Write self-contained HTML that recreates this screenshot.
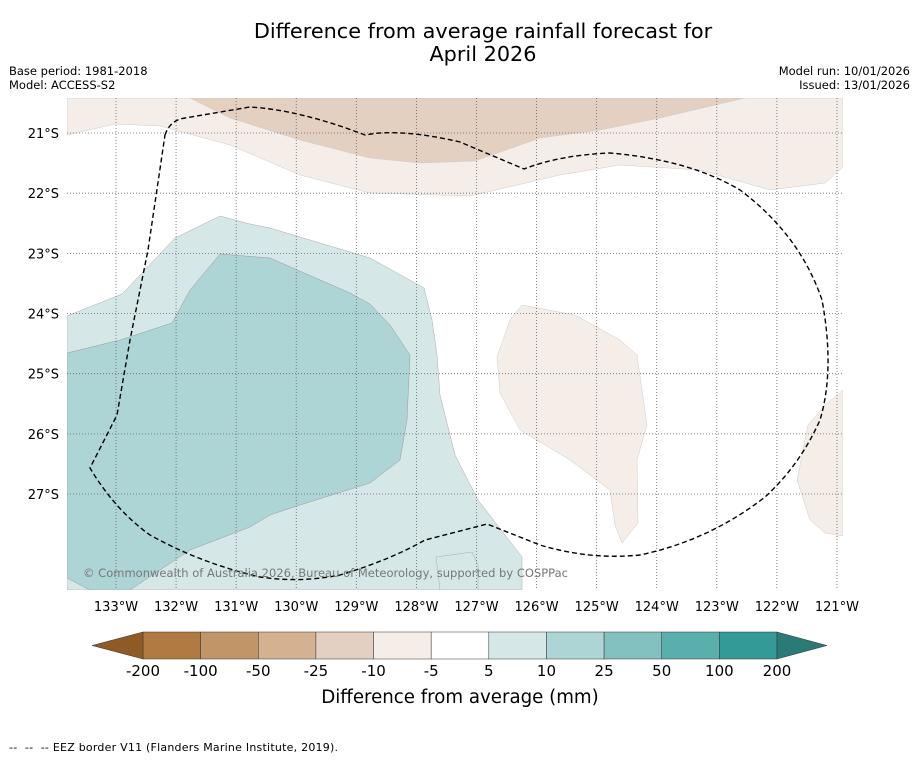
<!DOCTYPE html>
<html><head><meta charset="utf-8"><style>
body{margin:0;background:#fff;width:919px;height:758px;overflow:hidden}
svg text{font-family:"DejaVu Sans","Liberation Sans",sans-serif}
</style></head><body>
<svg width="919" height="758" viewBox="0 0 919 758" xmlns="http://www.w3.org/2000/svg">
<text x="483" y="38" font-size="20.8" text-anchor="middle">Difference from average rainfall forecast for</text>
<text x="483" y="61" font-size="20.8" text-anchor="middle">April 2026</text>
<text x="9" y="75" font-size="11.5">Base period: 1981-2018</text>
<text x="9" y="89" font-size="11.5">Model: ACCESS-S2</text>
<text x="910" y="75" font-size="11.5" text-anchor="end">Model run: 10/01/2026</text>
<text x="910" y="89" font-size="11.5" text-anchor="end">Issued: 13/01/2026</text>
<defs><clipPath id="mc"><rect x="67" y="98" width="776" height="492"/></clipPath></defs>
<g clip-path="url(#mc)">
<rect x="67" y="98" width="776" height="492" fill="#fff"/>
<path fill="#f5ede8" stroke="#ccc" stroke-width="0.5" d="M67,135 L115,124 L160,126 L230,145 L300,175 L370,193 L470,196 L560,175 L620,165 L700,170 L770,190 L825,183 L843,167 L843,98 L67,98 Z"/>
<path fill="#e3d0c0" stroke="#ccc" stroke-width="0.5" d="M190,98 L230,118 L300,140 L370,158 L420,163 L475,161 L540,138 L600,130 L660,118 L745,98 Z"/>
<path fill="#f5ede8" stroke="#ccc" stroke-width="0.5" d="M522,305 L510,320 L497,357 L500,393 L520,430 L570,460 L610,490 L615,525 L622,543 L638,523 L637,460 L647,425 L637,355 L620,340 L575,315 Z"/>
<path fill="#f5ede8" stroke="#ccc" stroke-width="0.5" d="M843,390 L825,405 L808,425 L797,480 L810,520 L825,533 L843,536 Z"/>
<path fill="#d5e8e7" stroke="#aaa" stroke-width="0.5" d="M67,316 L122,294 L175,238 L220,216 L250,224 L270,228 L370,258 L424,288 L432,320 L437,355 L440,395 L455,455 L478,500 L522,557 L522,590 L67,590 Z"/>
<path fill="#d5e8e7" stroke="#aaa" stroke-width="0.5" d="M436,557 L472,552 L478,565 L478,590 L440,590 Z"/>
<path fill="#add5d5" stroke="#999" stroke-width="0.5" d="M67,353 L120,340 L172,323 L190,290 L220,254 L270,258 L350,293 L370,304 L390,325 L410,355 L407,420 L400,460 L370,483 L300,505 L270,515 L250,527 L190,550 L130,590 L90,590 L67,578 Z"/>
<g id="grid" stroke="#666" stroke-width="0.8" stroke-dasharray="1,2"></g>
<path fill="none" stroke="#000" stroke-width="1.4" stroke-dasharray="5,3" stroke-linejoin="round" d="M165,135 Q170,120 185,118 L250,107 Q300,110 365,135 Q400,128 460,142 L524,169 Q560,155 610,153 Q690,160 740,190 Q800,235 822,300 Q835,370 820,420 Q800,465 765,497 Q710,540 640,555 Q590,560 540,545 L487,524 L425,540 Q390,560 340,575 Q300,583 260,577 Q200,563 150,535 Q115,510 90,468 L117,415 L130,340 L148,250 Z"/>
<text x="83" y="577" font-size="11.5" fill="#777" textLength="485">© Commonwealth of Australia 2026, Bureau of Meteorology, supported by COSPPac</text>
</g>
<g id="xlab" font-size="13" text-anchor="middle"></g>
<g id="ylab" font-size="13" text-anchor="end"></g>
<g id="cbar"></g>
<text x="460" y="703" font-size="18.2" text-anchor="middle">Difference from average (mm)</text>
<text x="9" y="751" font-size="11" xml:space="preserve" textLength="329">--  --  -- EEZ border V11 (Flanders Marine Institute, 2019).</text>
</svg>
<script>
const lonTicks=[133,132,131,130,129,128,127,126,125,124,123,122,121];
const latTicks=[21,22,23,24,25,26,27];
const cbarLabels=["-200","-100","-50","-25","-10","-5","5","10","25","50","100","200"];
const cbarColors=["#b07a42","#c29569","#d4b191","#e3d0c0","#f5ede8","#ffffff","#d5e8e7","#add5d5","#83c1c0","#5aaeac","#339a97"];
const NS="http://www.w3.org/2000/svg";
function lx(l){return 116+(133-l)*60.08;}
function ly(l){return 133+(l-21)*60.17;}
const grid=document.getElementById('grid'),xl=document.getElementById('xlab'),yl=document.getElementById('ylab');
lonTicks.forEach(l=>{
 const ln=document.createElementNS(NS,'line');
 
 
 ln.setAttribute('x1',lx(l));ln.setAttribute('x2',lx(l));ln.setAttribute('y1',98);ln.setAttribute('y2',590);grid.appendChild(ln);
 const t=document.createElementNS(NS,'text');
 
 
 t.setAttribute('x',lx(l));t.setAttribute('y',611);t.textContent=l+'°W';xl.appendChild(t);
});
latTicks.forEach(l=>{
 const ln=document.createElementNS(NS,'line');
 
 
 ln.setAttribute('x1',67);ln.setAttribute('x2',843);ln.setAttribute('y1',ly(l));ln.setAttribute('y2',ly(l));grid.appendChild(ln);
 const t=document.createElementNS(NS,'text');
 
 
 t.setAttribute('x',59);t.setAttribute('y',ly(l)+5);t.textContent=l+'°S';yl.appendChild(t);
});
const cb=document.getElementById('cbar');
const x0=143,x1=777,y0=632,y1=659,w=(x1-x0)/cbarColors.length;
cbarColors.forEach((c,i)=>{
 const r=document.createElementNS(NS,'rect');
 
 
 r.setAttribute('x',x0+i*w);r.setAttribute('y',y0);r.setAttribute('width',w);r.setAttribute('height',y1-y0);
 r.setAttribute('fill',c);r.setAttribute('stroke','#333');r.setAttribute('stroke-width','0.5');cb.appendChild(r);
});
const lt=document.createElementNS(NS,'polygon');


lt.setAttribute('points',`${x0},${y0} ${x0},${y1} 92,${(y0+y1)/2}`);lt.setAttribute('fill','#8f5a26');lt.setAttribute('stroke','#333');lt.setAttribute('stroke-width','0.5');cb.appendChild(lt);
const rt=document.createElementNS(NS,'polygon');


rt.setAttribute('points',`${x1},${y0} ${x1},${y1} 827,${(y0+y1)/2}`);rt.setAttribute('fill','#2b7a78');rt.setAttribute('stroke','#333');rt.setAttribute('stroke-width','0.5');cb.appendChild(rt);
cbarLabels.forEach((s,i)=>{
 const t=document.createElementNS(NS,'text');
 
 
 t.setAttribute('x',x0+i*w);t.setAttribute('y',676);t.setAttribute('font-size','15');t.setAttribute('text-anchor','middle');t.textContent=s;cb.appendChild(t);
});
</script>
</body></html>
